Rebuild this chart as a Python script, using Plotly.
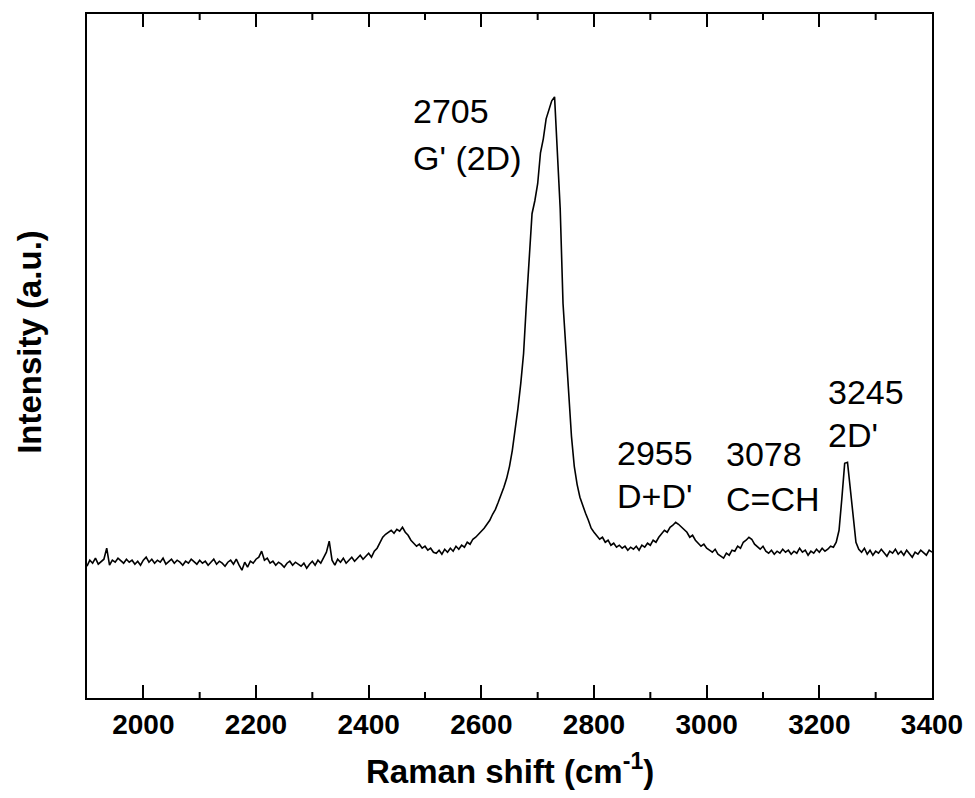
import plotly.graph_objects as go

wavenumber = list(range(1900, 3401, 5))
intensity = [
    132, 138, 135, 140, 134, 137, 139, 150, 133, 138, 136, 140, 137, 135, 139, 136, 138, 134, 137, 133,  # 1900-1995
    138, 141, 136, 139, 135, 138, 136, 140, 134, 137, 139, 135, 138, 136, 133, 137, 135, 139, 136, 134,  # 2000-2095
    138, 135, 137, 133, 136, 139, 134, 137, 135, 132, 136, 138, 134, 139, 133, 128, 136, 131, 137, 135,  # 2100-2195
    139, 141, 147, 138, 140, 135, 137, 133, 136, 134, 131, 135, 137, 133, 136, 134, 132, 135, 130, 134,  # 2200-2295
    137, 133, 138, 135, 140, 146, 157, 138, 133, 139, 136, 140, 135, 138, 141, 137, 140, 143, 139, 142,  # 2300-2395
    145, 141, 147, 150, 155, 161, 164, 166, 168, 165, 169, 167, 171, 166, 163, 158, 155, 152, 154, 150,  # 2400-2495
    152, 148, 150, 146, 145, 148, 144, 149, 146, 150, 147, 152, 149, 153, 151, 156, 154, 159, 161, 164,  # 2500-2595
    166, 170, 174, 178, 184, 189, 196, 203, 211, 220, 232, 248, 268, 290, 315, 345, 395, 441, 485, 498,  # 2600-2695
    515, 546, 560, 580, 588, 598, 602, 545, 490, 395, 350, 305, 262, 232, 214, 201, 192, 185, 178, 170,  # 2700-2795
    166, 162, 159, 161, 156, 158, 153, 155, 151, 153, 150, 152, 148, 151, 149, 152, 148, 153, 151, 155,  # 2800-2895
    153, 158, 156, 161, 165, 168, 166, 171, 173, 176, 174, 171, 168, 166, 161, 163, 158, 155, 152, 154,  # 2900-2995
    150, 148, 146, 149, 144, 142, 140, 145, 143, 148, 147, 152, 150, 156, 158, 161, 159, 154, 151, 149,  # 3000-3095
    152, 147, 145, 148, 144, 147, 145, 149, 146, 148, 144, 147, 145, 150, 146, 148, 143, 147, 145, 149,  # 3100-3195
    146, 150, 147, 149, 152, 151, 156, 168, 200, 235, 236, 208, 180, 156, 149, 146, 150, 144, 148, 143,  # 3200-3295
    147, 145, 149, 146, 142, 147, 145, 149, 144, 147, 143, 148, 145, 141, 146, 144, 148, 145, 143, 148,  # 3300-3395
    146,                                                                                                  # 3400
]

x_range = [1900, 3400]
x_tickvals = [2000, 2200, 2400, 2600, 2800, 3000, 3200, 3400]
x_ticktext = ["2000", "2200", "2400", "2600", "2800", "3000", "3200", "3400"]
x_minor_tickvals = [2100, 2300, 2500, 2700, 2900, 3100, 3300]

# peak labels: left-edge x, y of first line, y of second line, texts
label_x = [2476, 2838, 3030, 3211]
label_y1 = [588, 245, 244, 306]
label_y2 = [541, 202, 199, 263]
label_l1 = ["2705", "2955", "3078", "3245"]
label_l2 = ["G' (2D)", "D+D'", "C=CH", "2D'"]

FONT = "Liberation Sans, Arial, sans-serif"
PLOT_H = 685  # plot area height in px, used to size the minor tick marks
MINOR_LEN = 6 / PLOT_H

fig = go.Figure()
fig.add_trace(go.Scatter(
    x=wavenumber, y=intensity, mode="lines",
    line=dict(color="black", width=1.6), showlegend=False, hoverinfo="skip",
))

for x0, y1, y2, t1, t2 in zip(label_x, label_y1, label_y2, label_l1, label_l2):
    for yy, tt in ((y1, t1), (y2, t2)):
        fig.add_annotation(x=x0, y=yy, xref="x", yref="y", text=tt, showarrow=False,
                           xanchor="left", yanchor="middle",
                           font=dict(family=FONT, size=34, color="black"))

# minor inside tick marks on the bottom and the top frame, at the minor tick values
for v in x_minor_tickvals:
    for ya, yb in ((0, MINOR_LEN), (1, 1 - MINOR_LEN)):
        fig.add_shape(type="line", xref="x", yref="paper", x0=v, x1=v, y0=ya, y1=yb,
                      line=dict(color="black", width=2), layer="above")

# axis titles
fig.add_annotation(x=0.5, y=-0.104, xref="paper", yref="paper",
                   text="<b>Raman shift (cm<sup>-1</sup>)</b>", showarrow=False,
                   xanchor="center", yanchor="middle",
                   font=dict(family=FONT, size=33, color="black"))
fig.add_annotation(x=-0.068, y=0.52, xref="paper", yref="paper",
                   text="<b>Intensity (a.u.)</b>", showarrow=False, textangle=-90,
                   xanchor="center", yanchor="middle",
                   font=dict(family=FONT, size=33, color="black"))

fig.update_layout(
    width=975, height=798,
    margin=dict(l=87, r=38, t=13, b=100),
    paper_bgcolor="white", plot_bgcolor="white",
    font=dict(family=FONT, color="black"),
    xaxis=dict(
        range=x_range, tickvals=x_tickvals,
        ticktext=["<b>" + t + "</b>" for t in x_ticktext],
        ticks="inside", ticklen=13, tickwidth=2, tickcolor="black",
        showline=True, linewidth=2, linecolor="black", mirror="allticks",
        showgrid=False, zeroline=False,
        tickfont=dict(family=FONT, size=28, color="black"),
    ),
    yaxis=dict(
        range=[0, PLOT_H], showline=True, linewidth=2, linecolor="black", mirror=True,
        ticks="", showticklabels=False, showgrid=False, zeroline=False,
    ),
)

fig.write_html("out.html")
